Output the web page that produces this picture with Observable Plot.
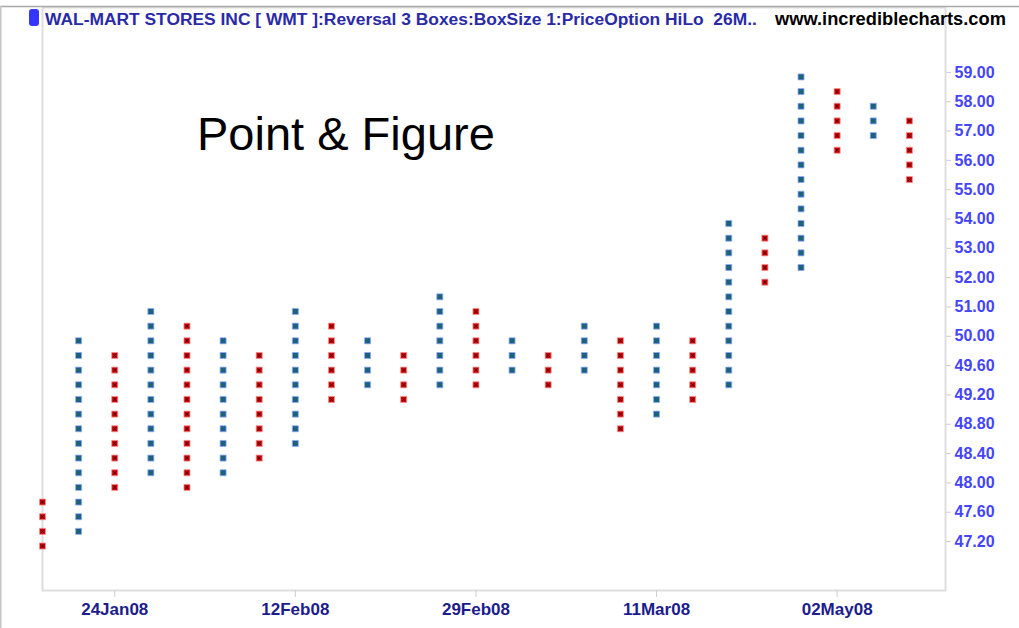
<!DOCTYPE html>
<html>
<head>
<meta charset="utf-8">
<script src="https://cdn.jsdelivr.net/npm/d3@7"></script>
<script src="https://cdn.jsdelivr.net/npm/@observablehq/plot@0.6"></script>
<style>
  html, body { margin: 0; padding: 0; background: #fff; }
  #wrap { position: relative; width: 1019px; height: 628px; overflow: hidden; font-family: "Liberation Sans", Arial, sans-serif; }
  #wrap > svg.plot { position: absolute; left: 0; top: 0; }
  #overlay { position: absolute; left: 0; top: 0; pointer-events: none; }
</style>
</head>
<body>
<div id="wrap"></div>
<script>
// Box price levels (row index = position in this list)
const priceBoxes = [47.2, 47.4, 47.6, 47.8, 48.0, 48.2, 48.4, 48.6, 48.8, 49.0, 49.2, 49.4, 49.6, 49.8, 50.0,
                    50.5, 51.0, 51.5, 52.0, 52.5, 53.0, 53.5, 54.0, 54.5, 55.0, 55.5, 56.0, 56.5, 57.0, 57.5, 58.0, 58.5, 59.0];
// Columns: direction ("O" falling = red, "X" rising = blue), lowest and highest box price
const colDirection = ["O","X","O","X","O","X","O","X","O","X","O","X","O","X","O","X","O","X","O","X","O","X","O","X","O"];
const colLow  = [47.2, 47.4, 48.0, 48.2, 48.0, 48.2, 48.4, 48.6, 49.2, 49.4, 49.2, 49.4, 49.4, 49.6, 49.4, 49.6, 48.8, 49.0, 49.2, 49.4, 52.0, 52.5, 56.5, 57.0, 55.5];
const colHigh = [47.8, 50.0, 49.8, 51.0, 50.5, 50.0, 49.8, 51.0, 50.5, 50.0, 49.8, 51.5, 51.0, 50.0, 49.8, 50.5, 50.0, 50.5, 50.0, 54.0, 53.5, 59.0, 58.5, 58.0, 57.5];
// Axis ticks
const yTickPrices = [47.2, 47.6, 48.0, 48.4, 48.8, 49.2, 49.6, 50.0, 51, 52, 53, 54, 55, 56, 57, 58, 59];
const xTickColumns = [2, 7, 12, 17, 22];
const xTickLabels = ["24Jan08", "12Feb08", "29Feb08", "11Mar08", "02May08"];

const rowOf = p => priceBoxes.findIndex(v => Math.abs(v - p) < 1e-6);

const boxes = [];
colDirection.forEach((dir, i) => {
  const lo = rowOf(colLow[i]), hi = rowOf(colHigh[i]);
  priceBoxes.forEach((p, r) => { if (r >= lo && r <= hi) boxes.push({col: i, row: r, dir, price: p}); });
});
const redBoxes = boxes.filter(d => d.dir === "O");
const blueBoxes = boxes.filter(d => d.dir === "X");

const chart = Plot.plot({
  width: 1019,
  height: 628,
  marginLeft: 42,
  marginRight: 74,
  marginTop: 7,
  marginBottom: 38,
  style: {fontFamily: "'Liberation Sans', Arial, sans-serif", background: "transparent"},
  x: {domain: [0, 25], axis: null, label: null},
  y: {domain: [-3.34, 36.43], axis: null, label: null},
  marks: [
    Plot.frame({stroke: "#dedede", strokeWidth: 2}),
    Plot.axisY({
      anchor: "right",
      label: null,
      ticks: yTickPrices.map(rowOf),
      tickFormat: r => priceBoxes[r].toFixed(2),
      tickSize: 5, tickPadding: 4,
      stroke: "#cfcfcf",
      fill: "#4444ff",
      fontSize: 16, fontWeight: "bold"
    }),
    Plot.axisX({
      anchor: "bottom",
      label: null,
      ticks: xTickColumns,
      tickFormat: c => xTickLabels[xTickColumns.indexOf(c)],
      tickSize: 7, tickPadding: 5,
      stroke: "#cfcfcf",
      fill: "#1c1c8c",
      fontSize: 17, fontWeight: "bold"
    }),
    Plot.dot(blueBoxes, {x: "col", y: "row", dy: 4.5, symbol: "square", r: 3.4, fill: "#1d5b93", stroke: "#8fb0ea", strokeWidth: 0.8}),
    Plot.dot(blueBoxes, {x: "col", y: "row", dy: 4.5, symbol: "square", r: 1.3, fill: "#1f6a55"}),
    Plot.dot(redBoxes, {x: "col", y: "row", dy: 4.5, symbol: "square", r: 3.4, fill: "#cc0000", stroke: "#f09090", strokeWidth: 0.8}),
    Plot.dot(redBoxes, {x: "col", y: "row", dy: 4.5, symbol: "times", r: 1.6, stroke: "#5a0000", strokeWidth: 1})
  ]
});
chart.classList.add("plot");
const wrap = document.getElementById("wrap");
wrap.appendChild(chart);

// Overlay: title, watermark, logo, annotation, outer borders
const ov = d3.select(wrap).append("svg").attr("id", "overlay").attr("width", 1019).attr("height", 628);
ov.append("line").attr("x1", 0).attr("x2", 1019).attr("y1", 6.5).attr("y2", 6.5).attr("stroke", "#a9a9a9").attr("stroke-width", 1.5);
ov.append("line").attr("x1", 0.75).attr("x2", 0.75).attr("y1", 6).attr("y2", 628).attr("stroke", "#c4c4c4").attr("stroke-width", 1.5);
ov.append("rect").attr("x", 29).attr("y", 9).attr("width", 10).attr("height", 17).attr("rx", 3).attr("fill", "#3535ff");
ov.append("text").attr("x", 45).attr("y", 25)
  .attr("font-family", "'Liberation Sans', Arial, sans-serif").attr("font-weight", "bold").attr("font-size", 17.4)
  .attr("fill", "#2a2aa8").attr("xml:space", "preserve").style("white-space", "pre")
  .text("WAL-MART STORES INC [ WMT ]:Reversal 3 Boxes:BoxSize 1:PriceOption HiLo  26M..");
ov.append("text").attr("x", 775).attr("y", 25)
  .attr("font-family", "'Liberation Sans', Arial, sans-serif").attr("font-weight", "bold").attr("font-size", 18.3)
  .attr("fill", "#000").text("www.incrediblecharts.com");
ov.append("text").attr("x", 197).attr("y", 149.5)
  .attr("font-family", "'Liberation Sans', Arial, sans-serif").attr("font-size", 47)
  .attr("fill", "#000").text("Point & Figure");
</script>
</body>
</html>
